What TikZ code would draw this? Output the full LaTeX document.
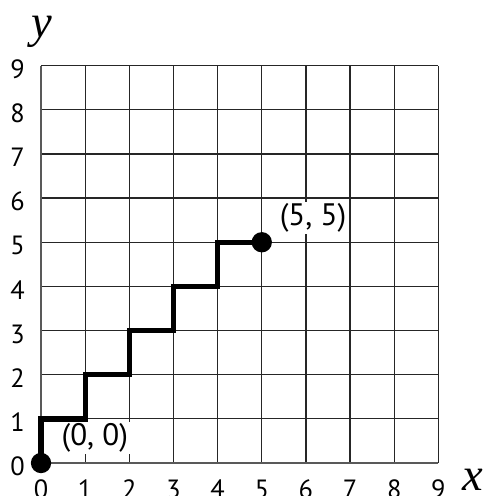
\documentclass[tikz,border=0pt]{standalone}
\usepackage{fontspec}
\setmainfont{PT Sans}
\newfontfamily\axisfont{Liberation Serif}
\usepackage{tikz}

\begin{document}
\begin{tikzpicture}[
  gridline/.style={line width=0.8pt,black!85},
  stair/.style={line width=3.4pt},
  dot/.style={circle,fill=black,inner sep=0pt,minimum size=0.46cm},
  tick/.style={inner sep=0pt,font=\fontsize{17}{17}\selectfont},
  pointlabel/.style={fill=white,inner sep=1pt,font=\fontsize{20}{20}\selectfont}]
\useasboundingbox (-0.929,-0.747) rectangle (10.10,10.487);
\draw[gridline] (0,0) grid (9,9);
\draw[line width=1.3pt,black!65] (0,0)--(9,0);
\draw[line width=1.3pt,black!65] (0,0)--(0,9);
\foreach \n in {0,...,9} {
  \node[tick,anchor=north] (xt\n) at (\n,-0.38) {\n};
  \node[tick] (yt\n) at (-0.53,\n-0.08) {\n};
}
\node[font=\axisfont\itshape\fontsize{30}{30}\selectfont] (ylab) at (0.02,9.76) {y};
\node[font=\axisfont\itshape\fontsize{30}{30}\selectfont] (xlab) at (9.78,-0.38) {x};

\node[dot] (start) at (0,0) {};
\node[dot] (end) at (5,5) {};
\draw[stair] (start.center) |- (1,1) |- (2,2) |- (3,3) |- (4,4) |- (end.center);

\node[pointlabel] (startlab) at (1.22,0.57) {(0, 0)};
\node[pointlabel] (endlab) at (6.16,5.55) {(5, 5)};
\end{tikzpicture}
\end{document}
